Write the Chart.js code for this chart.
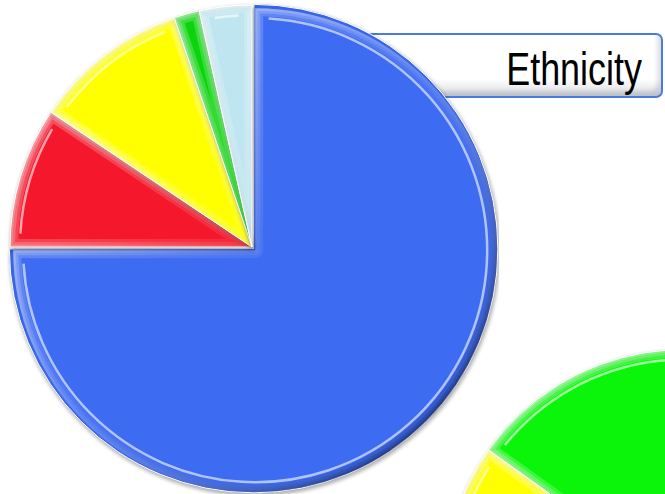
<!DOCTYPE html>
<html>
<head>
<meta charset="utf-8">
<script src="https://cdn.jsdelivr.net/npm/chart.js@4/dist/chart.umd.min.js"></script>
<style>
    html, body { margin: 0; padding: 0; background: #fff; overflow: hidden; width: 665px; height: 494px; }
    .box { position: absolute; }
    #mainBox { left: 5px; top: 0px; width: 494px; height: 494px; z-index: 2; }
    #otherBox { left: 443px; top: 349px; width: 482px; height: 482px; z-index: 2; }
    #titleFrame {
        position: absolute; left: 365px; top: 33px; width: 294px; height: 61px; z-index: 1;
        border: 2px solid #4a78e6; border-radius: 7px;
        background: linear-gradient(#ffffff 0%, #ffffff 72%, #d9dbe0 100%);
        box-shadow: inset -4px -5px 4px rgba(0, 0, 0, 0.12);
    }
    #titleText {
        position: absolute; right: 23px; top: 46px; z-index: 1;
        font-family: "Liberation Sans", Arial, sans-serif;
        font-size: 46px; line-height: 46px; color: #000; white-space: nowrap;
        transform: scaleX(0.78); transform-origin: right center;
    }
</style>
</head>
<body>
<div id="titleFrame"></div>
<div id="titleText">Ethnicity</div>
<div class="box" id="mainBox"><canvas id="myChart"></canvas></div>
<div class="box" id="otherBox"><canvas id="myChart2"></canvas></div>
<script>
// ethnicity breakdown, clockwise from 12 o'clock (percent)
var ethnicLabels = ['White', 'Black', 'Asian', 'Mixed', 'Other'];
var ethnicValues = [75.0, 9.4, 10.4, 1.7, 3.5];
var ethnicColors = ['#3d6bf2', '#f5172b', '#ffff00', '#0cd40c', '#bfe6f0'];
var ethnicOffsets = [9, 0, 0, 0, 0];

// second pie, mostly off the page
var otherLabels = ['Group A', 'Group B'];
var otherValues = [62, 38];
var otherColors = ['#0af50a', '#ffff00'];

// bevelled edges drawn over every slice
var bevel = {
    id: 'bevel',
    beforeDatasetsDraw: function (chart) {
        var ctx = chart.ctx;
        ctx.save();
        ctx.shadowColor = 'rgba(0,0,0,0.35)';
        ctx.shadowBlur = 4;
        ctx.shadowOffsetX = 1;
        ctx.shadowOffsetY = 2;
    },
    afterDatasetsDraw: function (chart) {
        var ctx = chart.ctx;
        ctx.restore();
        chart.getDatasetMeta(0).data.forEach(function (arc) {
            var p = arc.getProps(['x', 'y', 'startAngle', 'endAngle', 'outerRadius', 'circumference']);
            var off = (arc.options.offset || 0) / 4;
            var half = (p.startAngle + p.endAngle) / 2;
            var fix = 1 - Math.sin(Math.min(Math.PI, p.circumference || 0));
            var d = off * (1 + fix);
            var r = p.outerRadius;
            ctx.save();
            ctx.translate(Math.cos(half) * d, Math.sin(half) * d);
            ctx.beginPath();
            ctx.moveTo(p.x, p.y);
            ctx.arc(p.x, p.y, r, p.startAngle, p.endAngle);
            ctx.closePath();
            ctx.clip();
            var g = ctx.createLinearGradient(p.x - r * 0.7, p.y - r * 0.7, p.x + r * 0.7, p.y + r * 0.7);
            g.addColorStop(0, 'rgba(255,255,255,0.55)');
            g.addColorStop(0.5, 'rgba(255,255,255,0.15)');
            g.addColorStop(1, 'rgba(0,0,0,0.35)');
            [16, 10, 5].forEach(function (w) {
                ctx.lineWidth = w;
                ctx.strokeStyle = g;
                ctx.globalAlpha = 0.45;
                ctx.lineJoin = 'round';
                ctx.beginPath();
                ctx.moveTo(p.x, p.y);
                ctx.arc(p.x, p.y, r, p.startAngle, p.endAngle);
                ctx.closePath();
                ctx.stroke();
            });
            // thin highlight just inside the rim
            ctx.globalAlpha = 1;
            ctx.lineWidth = 2.5;
            ctx.strokeStyle = 'rgba(255,255,255,0.6)';
            var pad = 14 / r;
            if (p.endAngle - p.startAngle > 2 * pad) {
                ctx.beginPath();
                ctx.arc(p.x, p.y, r - 10, p.startAngle + pad, p.endAngle - pad);
                ctx.stroke();
            }
            ctx.restore();
        });
    }
};

new Chart(document.getElementById('myChart'), {
    type: 'pie',
    data: {
        labels: ethnicLabels,
        datasets: [{
            data: ethnicValues,
            backgroundColor: ethnicColors,
            offset: ethnicOffsets,
            borderColor: '#ffffff',
            borderWidth: 1,
            hoverOffset: 0
        }]
    },
    options: {
        responsive: true,
        maintainAspectRatio: false,
        animation: false,
        events: [],
        layout: { padding: 0 },
        plugins: { legend: { display: false }, tooltip: { enabled: false }, title: { display: false } }
    },
    plugins: [bevel]
});

new Chart(document.getElementById('myChart2'), {
    type: 'pie',
    data: {
        labels: otherLabels,
        datasets: [{
            data: otherValues,
            backgroundColor: otherColors,
            borderColor: '#ffffff',
            borderWidth: 1,
            hoverOffset: 0
        }]
    },
    options: {
        responsive: true,
        maintainAspectRatio: false,
        animation: false,
        events: [],
        rotation: -54.4,
        layout: { padding: 0 },
        plugins: { legend: { display: false }, tooltip: { enabled: false } }
    },
    plugins: [bevel]
});
</script>
</body>
</html>
